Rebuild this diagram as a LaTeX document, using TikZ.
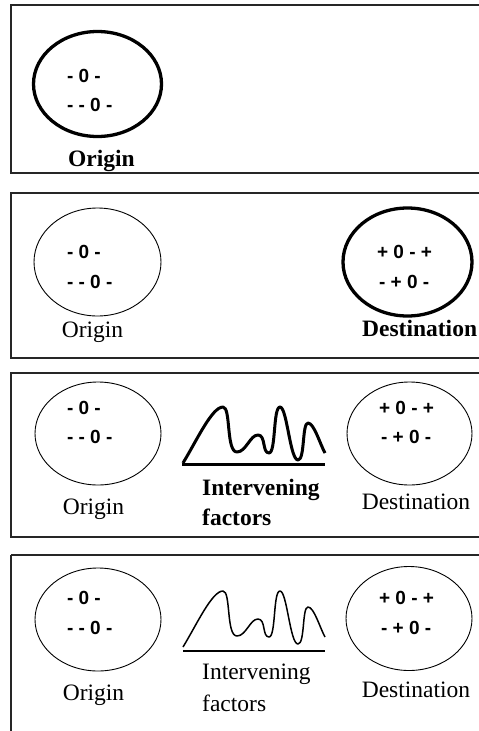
\documentclass[tikz,border=0pt]{standalone}
\usepackage{fontspec}
\setmainfont{Liberation Serif}
\setsansfont{Liberation Sans}
\usetikzlibrary{shapes.geometric}
\newcommand\odsymfont{\sffamily\bfseries\fontsize{19}{20}\selectfont\spaceskip 5.2pt\relax}
\begin{document}
\begin{tikzpicture}[x=1pt,y=-1pt,
  panel/.style={draw=black!85, line width=1.4pt},
  region/.style={ellipse, draw, line width=0.9pt, minimum width=127pt, minimum height=104pt, inner sep=0pt},
  hot/.style={line width=3.3pt},
  sym/.style={font=\odsymfont, anchor=base west, inner sep=0pt},
  lab/.style={font=\fontsize{23.5}{28}\selectfont, anchor=base, inner sep=0pt},
  blab/.style={lab, font=\fontsize{23.5}{28}\selectfont\bfseries},
]
\useasboundingbox (0,0) rectangle (479,731);
\tikzset{wavepath/.pic={
  \draw[pic actions] (0,-1) .. controls (14,-24) and (29,-57) .. (40,-57)
    .. controls (48,-57) and (43,-12) .. (54,-12)
    .. controls (63,-12) and (67,-29) .. (75,-29)
    .. controls (83,-29) and (79,-11) .. (86,-11)
    .. controls (93,-11) and (90,-57) .. (97,-57)
    .. controls (104,-57) and (107,-4) .. (115,-4)
    .. controls (122,-4) and (119,-41) .. (125,-41)
    .. controls (131,-41) and (137,-20) .. (142,-11);
}}

% ---------- Panel 1 ----------
\draw[panel] (11,5) rectangle (500,173);
\node[region, hot, minimum width=128pt, minimum height=105pt] (o1) at (97.5,84) {};
\node[sym] (o1a) at (67,82.5) {- 0 -};
\node[sym] (o1b) at (67,111.5) {- - 0 -};
\node[blab] (o1l) at (101.5,166) {Origin};

% ---------- Panel 2 ----------
\draw[panel] (11,193) rectangle (500,358);
\node[region, minimum height=108pt] (o2) at (97.5,262) {};
\node[sym] (o2a) at (67,258.5) {- 0 -};
\node[sym] (o2b) at (67,288.5) {- - 0 -};
\node[lab] (o2l) at (92.5,337) {Origin};
\node[region, hot, minimum width=129pt, minimum height=108pt] (d2) at (407.5,262) {};
\node[sym] (d2a) at (377,258.5) {+ 0 - +};
\node[sym] (d2b) at (379,288.5) {- + 0 -};
\node[blab, anchor=base west] (d2l) at (362,336) {Destination};

% ---------- Panel 3 ----------
\draw[panel] (11,373) rectangle (500,537);
\node[region, minimum width=126pt, minimum height=103pt] (o3) at (98,433.5) {};
\node[sym] (o3a) at (67,414.5) {- 0 -};
\node[sym] (o3b) at (67,443.5) {- - 0 -};
\node[lab] (o3l) at (93.5,514) {Origin};
\node[region, minimum width=125pt, minimum height=103pt] (d3) at (409.5,433.5) {};
\node[sym] (d3a) at (379,414.5) {+ 0 - +};
\node[sym] (d3b) at (381,443.5) {- + 0 -};
\node[lab] (d3l) at (416,509) {Destination};
\coordinate (w3s) at (182,464);
\coordinate (w3e) at (325,464);
\draw[line width=3pt] (w3s) -- (w3e);
\pic[line width=3pt, line join=round] at (183,464) {wavepath};
\node[blab, anchor=base west] (i3a) at (202,495) {Intervening};
\node[blab, anchor=base west] (i3b) at (202,525) {factors};

% ---------- Panel 4 ----------
\draw[panel] (11,555) -- (500,555);
\draw[panel] (11,555) -- (11,740);
\node[region, minimum width=126pt, minimum height=103pt] (o4) at (98,619.5) {};
\node[sym] (o4a) at (67,604.5) {- 0 -};
\node[sym] (o4b) at (67,634.5) {- - 0 -};
\node[lab] (o4l) at (93.5,700) {Origin};
\node[region, minimum width=126pt, minimum height=104pt] (d4) at (409,618.5) {};
\node[sym] (d4a) at (379,604.5) {+ 0 - +};
\node[sym] (d4b) at (381,634.5) {- + 0 -};
\node[lab] (d4l) at (416,697) {Destination};
\coordinate (w4s) at (183,651);
\coordinate (w4e) at (325,651);
\draw[line width=2pt] (w4s) -- (w4e);
\pic[line width=1.5pt, line join=round] at (183,648) {wavepath};
\node[lab, anchor=base west] (i4a) at (202,679) {Intervening};
\node[lab, anchor=base west] (i4b) at (202,711) {factors};
\end{tikzpicture}
\end{document}
